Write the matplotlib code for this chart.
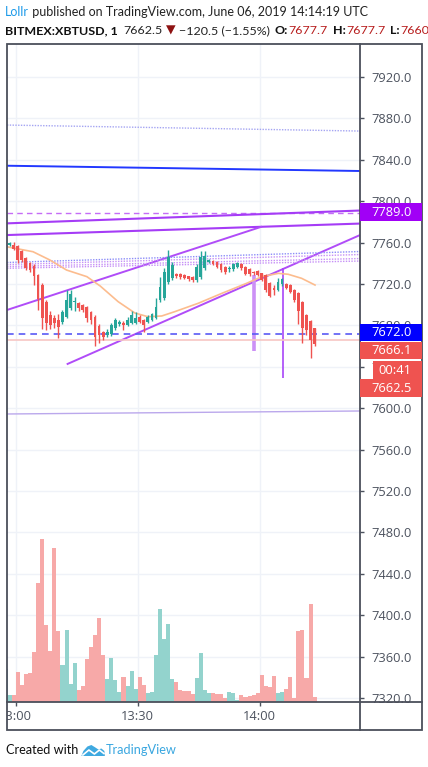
import matplotlib
matplotlib.use("Agg")
import matplotlib.pyplot as plt
from matplotlib.patches import Rectangle, Polygon
import numpy as np

# ---------------- data ----------------
opens = [7756.0, 7757.4, 7757.7, 7756.7, 7751.9, 7744.8, 7740.0, 7737.7, 7728.7, 7719.0,
         7702.9, 7690.0, 7687.4, 7685.2, 7683.0, 7688.4, 7696.5, 7702.4, 7701.4, 7699.7,
         7698.1, 7692.7, 7688.4, 7679.7, 7673.3, 7670.7, 7671.4, 7677.3, 7680.9, 7681.9,
         7680.4, 7682.0, 7682.0, 7688.4, 7685.2, 7683.6, 7685.2, 7687.4, 7704.6, 7706.2,
         7722.2, 7726.0, 7729.6, 7729.6, 7728.7, 7727.4, 7726.8, 7723.9, 7727.1, 7735.8,
         7741.3, 7742.2, 7741.0, 7739.0, 7736.7, 7734.2, 7734.2, 7736.7, 7739.0, 7736.7,
         7734.2, 7731.9, 7732.5, 7730.3, 7728.7, 7720.7, 7715.8, 7714.2, 7719.7, 7719.7,
         7719.0, 7714.2, 7711.0, 7702.9, 7690.0, 7684.2, 7677.7]
closes = [7757.7, 7759.3, 7753.5, 7743.2, 7743.2, 7735.2, 7733.5, 7728.0, 7705.5, 7686.9,
          7682.0, 7680.4, 7682.0, 7678.7, 7693.2, 7704.5, 7710.0, 7703.3, 7696.5, 7694.9,
          7687.4, 7685.2, 7669.1, 7670.7, 7669.1, 7673.3, 7680.4, 7685.1, 7683.2, 7680.4,
          7685.2, 7690.0, 7686.9, 7683.6, 7680.4, 7688.4, 7690.7, 7698.1, 7717.4, 7731.6,
          7746.4, 7738.0, 7728.0, 7727.0, 7725.5, 7724.5, 7723.6, 7736.7, 7746.4, 7747.3,
          7743.2, 7739.0, 7736.7, 7733.5, 7731.3, 7735.7, 7739.0, 7740.0, 7735.2, 7729.7,
          7729.7, 7730.3, 7728.7, 7723.9, 7714.2, 7708.7, 7714.2, 7722.2, 7724.8, 7716.4,
          7712.6, 7704.6, 7693.9, 7677.2, 7675.5, 7665.9, 7662.5]
highs = [7759.6, 7760.9, 7760.3, 7757.5, 7753.0, 7746.0, 7741.0, 7739.0, 7730.0, 7721.0,
         7705.0, 7693.9, 7690.0, 7691.0, 7694.9, 7714.2, 7714.2, 7707.7, 7703.0, 7701.0,
         7699.0, 7694.0, 7690.0, 7681.0, 7674.5, 7676.5, 7682.0, 7687.0, 7685.0, 7684.2,
         7688.4, 7693.9, 7692.7, 7690.0, 7686.0, 7690.0, 7692.0, 7706.2, 7727.1, 7735.5,
         7752.9, 7741.0, 7731.0, 7731.0, 7729.5, 7728.0, 7727.5, 7739.0, 7751.9, 7751.9,
         7744.5, 7743.0, 7742.0, 7740.0, 7737.5, 7737.0, 7740.0, 7741.0, 7740.0, 7737.5,
         7735.0, 7733.0, 7733.5, 7731.0, 7730.0, 7722.0, 7719.0, 7725.5, 7726.1, 7721.0,
         7720.0, 7715.0, 7712.0, 7704.0, 7691.0, 7685.5, 7677.7]
lows = [7755.3, 7757.0, 7752.9, 7740.0, 7741.5, 7733.5, 7731.6, 7719.0, 7694.9, 7676.5,
        7675.5, 7676.5, 7677.5, 7667.5, 7681.0, 7687.0, 7695.0, 7693.9, 7693.9, 7693.0,
        7683.6, 7681.1, 7660.4, 7662.7, 7666.0, 7669.0, 7670.0, 7676.0, 7679.0, 7675.5,
        7679.0, 7681.0, 7681.0, 7682.0, 7673.9, 7682.0, 7684.0, 7686.0, 7703.0, 7705.0,
        7720.0, 7724.0, 7726.0, 7725.0, 7724.5, 7723.0, 7722.0, 7722.0, 7725.0, 7734.0,
        7740.0, 7738.0, 7735.5, 7732.0, 7730.0, 7732.0, 7733.0, 7735.0, 7734.0, 7728.5,
        7728.0, 7729.0, 7727.5, 7722.5, 7712.0, 7707.0, 7709.4, 7713.0, 7718.0, 7715.0,
        7711.0, 7703.0, 7681.1, 7662.7, 7670.7, 7648.2, 7660.0]
volumes = [33.3, 7.3, 7.3, 30.3, 17.3, 28.3, 29.3, 50.3, 119.3, 163.3,
           77.3, 51.3, 154.3, 71.3, 37.3, 72.3, 18.3, 39.3, 12.3, 16.3,
           43.3, 55.3, 67.3, 84.3, 47.3, 23.3, 44.3, 22.3, 10.3, 25.3,
           16.3, 31.3, 13.3, 25.3, 17.3, 9.3, 10.3, 47.3, 93.3, 63.3,
           78.3, 23.3, 20.3, 12.3, 11.3, 11.3, 8.3, 24.3, 49.3, 12.3,
           9.3, 9.3, 8.3, 8.3, 4.3, 10.3, 9.3, 2.3, 7.3, 5.3,
           6.3, 7.3, 9.3, 27.3, 16.3, 15.3, 26.3, 9.3, 10.3, 13.3,
           25.3, 4.3, 71.3, 72.3, 24.3, 98.3, 5.3]
# moving average (orange) read at some bar positions (minutes after 13:00)
ma_minutes = [-2.2, 4.25, 8.4, 12.5, 17.5, 20.8, 25.2, 29.3, 32.5, 35.9, 39.2,
              44.9, 50.7, 56.8, 60.5, 64.6, 67.0, 70.3, 73.6]
ma_values = [7756.0, 7751.2, 7743.2, 7733.5, 7727.1, 7718.0, 7702.9, 7692.0, 7688.4, 7689.1,
             7693.4, 7701.4, 7711.0, 7720.7, 7727.1, 7730.3, 7729.4, 7725.5, 7719.0]

time_tick_minutes = [0, 30, 60]
time_tick_labels = ["13:00", "13:30", "14:00"]
price_ticks = list(range(7320, 7921, 40))

# drawn tools: (minute0, price0, minute1, price1)
tool_lines = [
    (-2.14, 7873.6, 84.66, 7867.8),   # dotted lavender
    (-2.14, 7834.3, 84.66, 7829.2),   # blue
    (-2.14, 7789.0, 84.66, 7789.0),   # dashed purple
    (-2.14, 7778.6, 84.66, 7791.0),   # purple
    (-2.14, 7767.3, 84.66, 7778.4),   # purple
    (-2.14, 7694.9, 60.56, 7775.5),   # channel upper
    (12.54, 7642.4, 84.66, 7767.3),   # channel lower
    (-2.14, 7740.8, 84.66, 7751.4),   # dotted bundle
    (-2.14, 7738.8, 84.66, 7748.5),
    (-2.14, 7736.9, 84.66, 7744.6),
    (-2.14, 7735.2, 84.66, 7742.2),
    (-2.14, 7594.4, 84.66, 7597.3),   # lower lavender
    (58.6, 7728.7, 58.6, 7655.3),     # vertical thick
    (65.65, 7735.5, 65.65, 7629.2),   # vertical thin
]
tool_styles = [
    dict(color="#a4a4f2", lw=1.0, ls=(0, (1, 1))),
    dict(color="#2238ff", lw=1.4, ls="-"),
    dict(color="#c56cf6", lw=1.0, ls=(0, (4, 3))),
    dict(color="#a53cf6", lw=1.5, ls="-"),
    dict(color="#a53cf6", lw=1.5, ls="-"),
    dict(color="#b04cf8", lw=1.4, ls="-"),
    dict(color="#b04cf8", lw=1.4, ls="-"),
    dict(color="#8c8cf8", lw=1.0, ls=(0, (1, 1))),
    dict(color="#c690f6", lw=1.0, ls=(0, (1, 1))),
    dict(color="#c690f6", lw=1.0, ls=(0, (1, 1))),
    dict(color="#c690f6", lw=1.0, ls=(0, (1, 1))),
    dict(color="#bba8ec", lw=1.0, ls="-"),
    dict(color="#cc90f6", lw=2.6, ls="-"),
    dict(color="#a845f8", lw=1.2, ls="-"),
]
hline_blue = 7672.0
hline_pink = 7666.1

header1_user = "Lollr"
header1_rest = " published on TradingView.com, June 06, 2019 14:14:19 UTC"
symbol = "BITMEX:XBTUSD, 1"
last_price = "7662.5"
change = "\u2212120.5 (\u22121.55%)"
ohl = [("O:", "7677.7"), ("H:", "7677.7"), ("L:", "7660.0")]

# ---------------- figure ----------------
W, H = 428, 767
fig = plt.figure(figsize=(W / 100, H / 100), dpi=100)
fig.patch.set_facecolor("white")


def rect(x0, y0, x1, y1):
    return [x0 / W, 1 - y1 / H, (x1 - x0) / W, (y1 - y0) / H]


PX0, PY0, PX1, PY1 = 7, 43.5, 360, 702
XLIM = (-2.14, 84.66)
YLIM = (7316.1, 7952.4)

ax = fig.add_axes(rect(PX0, PY0, PX1, PY1))
ax.set_xlim(*XLIM)
ax.set_ylim(*YLIM)
ax.set_facecolor("white")
for s in ax.spines.values():
    s.set_visible(False)
ax.set_yticks(price_ticks)
ax.set_yticklabels([f"{p:.1f}" for p in price_ticks])
ax.yaxis.tick_right()
ax.tick_params(axis="y", right=True, left=False, labelright=True, labelleft=False,
               length=3, width=1, color="#4c525e", labelcolor="#4c525e", pad=5,
               labelsize=9.3)
for lab in ax.get_yticklabels():
    lab.set_fontfamily("Open Sans")
ax.set_xticks(time_tick_minutes)
ax.tick_params(axis="x", bottom=True, labelbottom=False, length=3, width=1,
               color="#4c525e")
ax.grid(True, color="#eff2f8", lw=1)

x = np.arange(len(opens)) - 2.5   # bar centres in minutes after 13:00

# tools behind candles
for (x0, p0, x1, p1), st in zip(tool_lines, tool_styles):
    ax.plot([x0, x1], [p0, p1], solid_capstyle="butt", zorder=2, **st)
ax.axhline(hline_pink, color="#f7c6c4", lw=1.2, zorder=2)
ax.axhline(hline_blue, color="#5a5af5", lw=1.2, ls=(0, (4, 3)), zorder=2)
ax.plot(ma_minutes, ma_values, color="#fcbc8e", lw=1.2, zorder=2.5)

# candles
o = np.array(opens); c = np.array(closes); h = np.array(highs); l = np.array(lows)
up = c >= o
col = np.where(up, "#26a69a", "#ef5350")
ax.vlines(x, l, h, colors=col, lw=1.0, zorder=3)
body_lo = np.minimum(o, c)
body_h = np.maximum(np.abs(c - o), 0.9)
ax.bar(x, body_h, bottom=body_lo, width=0.68, color=col, zorder=4, linewidth=0)

# volume overlay
axv = fig.add_axes(rect(PX0, PY0, PX1, PY1))
axv.set_xlim(*XLIM)
axv.set_ylim(0, PY1 - PY0)
axv.patch.set_alpha(0)
axv.axis("off")
vcol = np.where(up, "#93d3cd", "#f7a9a8")
axv.bar(x, volumes, width=1.0, color=vcol, linewidth=0)

# time axis labels (clipped like the reference)
axt = fig.add_axes(rect(PX0, PY1, PX1, 730))
axt.set_xlim(*XLIM)
axt.set_ylim(0, 1)
axt.axis("off")
for m, lab in zip(time_tick_minutes, time_tick_labels):
    axt.text(m, 0.47, lab, ha="center", va="center", fontsize=9.3, family="Open Sans",
             color="#4c525e", clip_on=True)

# overlay in pixel coordinates
ov = fig.add_axes([0, 0, 1, 1])
ov.set_xlim(0, W)
ov.set_ylim(H, 0)
ov.axis("off")
ov.patch.set_alpha(0)
fc = "#4b4f5b"
ov.add_patch(Rectangle((7, 43.5), 415, 686.5, fill=False, ec=fc, lw=1.3))
ov.plot([360.5, 360.5], [43.5, 730], color=fc, lw=1.3)
ov.plot([7, 422], [702, 702], color=fc, lw=1.3)

# price labels on the scale
boxes = [
    ("7789.0", 360.5, 203, 422, 221, "#a100f6"),
    ("7672.0", 360.5, 324, 422, 341, "#0000ff"),
    ("7666.1", 360.5, 342, 422, 359, "#ef5350"),
    ("00:41", 373, 361, 422, 379, "#ef5350"),
    ("7662.5", 360.5, 379, 422, 397, "#ef5350"),
]
for txt, x0, y0, x1, y1, fcol in boxes:
    ov.add_patch(Rectangle((x0, y0), x1 - x0, y1 - y0, color=fcol, lw=0, zorder=5))
    tx = 371 if txt != "00:41" else 378
    ov.text(tx, (y0 + y1) / 2 + 0.5, txt, color="white", ha="left", va="center",
            fontsize=9.3, family="Open Sans", zorder=6)

# ---------------- header / footer text, laid out by measured widths ----------------
r = fig.canvas.get_renderer()
hfam = ["Lato", "DejaVu Sans"]


def text_w(s, **kw):
    t = ov.text(0, 0, s, **kw)
    w = t.get_window_extent(r).width
    t.remove()
    return w


def run(x0, y, pieces, size):
    xx = x0
    for s, gap, kw in pieces:
        xx += gap
        ov.text(xx, y, s, fontsize=size, va="center", ha="left", **kw)
        xx += text_w(s, fontsize=size, **kw)
    return xx


def run_width(pieces, size):
    return sum(gap + text_w(s, fontsize=size, **kw) for s, gap, kw in pieces)


N = dict(family=hfam, color="#222222")
B = dict(family=hfam, color="#111111", weight="bold")
R = dict(family=hfam, color="#b71c1c")

line1 = [(header1_user, 0, dict(family=hfam, color="#1e9be9")), (header1_rest, 0, N)]
s1 = 10.0 * 364 / run_width(line1, 10.0)
run(5, 12.5, line1, s1)

line2 = [(symbol, 0, B), (last_price, 6, N),
         ("\u25bc", 3, dict(family="DejaVu Sans", color="#8e1212")), (change, 3, N)]
for lab, val in ohl:
    line2 += [(lab, 5, B), (val, 0.5, R)]
# scale so that the last "L:" label starts where it does in the reference (x=388)
pre = line2[:-2]
s2 = 10.0 * (388 - 5 - 5) / run_width(pre, 10.0)
s2 = min(s2, s1 * 1.02)
run(5, 30.5, line2, s2)

foot_l = [("Created with", 0, dict(family=hfam, color="#111111"))]
sf = 10.0 * 73 / run_width(foot_l, 10.0)
xe = run(6, 750, foot_l, sf)
lx = xe + 3
logo = [(lx, 756), (lx + 2, 751), (lx + 6, 746.5), (lx + 10, 745), (lx + 14, 747.5),
        (lx + 17, 749.5), (lx + 20, 748.5), (lx + 23, 751), (lx + 23.5, 756)]
ov.add_patch(Polygon(logo, closed=True, color="#3fa9e0", lw=0))
ov.plot([lx + 1.5, lx + 7.5, lx + 13, lx + 18, lx + 22.5], [755, 750, 754, 750, 753.5],
        color="white", lw=1.2)
run(lx + 24, 750, [("TradingView", 0, dict(family=hfam, color="#3aa7e0"))], sf)

fig.savefig("out.png", dpi=100, facecolor="white")
